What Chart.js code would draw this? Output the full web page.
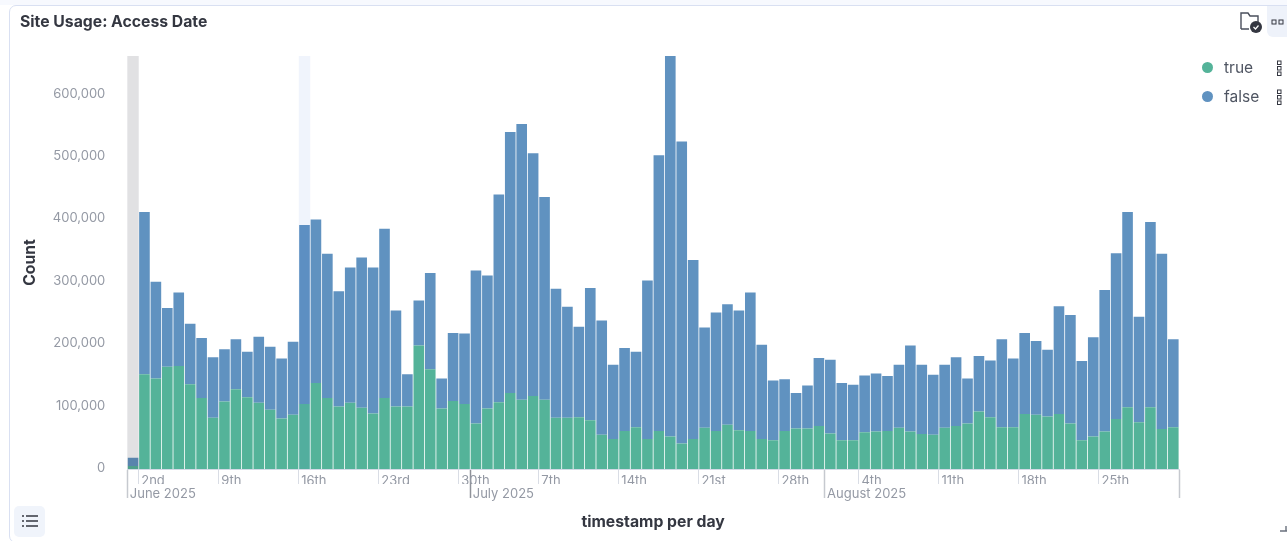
<!DOCTYPE html>
<html>
<head>
<meta charset="utf-8">
<script src="https://cdn.jsdelivr.net/npm/chart.js"></script>
<style>
  html, body { margin: 0; padding: 0; background: #fff; overflow: hidden; }
  body { width: 1287px; height: 541px; position: relative; font-family: Inter, sans-serif; }
  #topstrip { position: absolute; left: 0; top: 0; width: 1287px; height: 5px; background: #f7f9fe; }
  #card { position: absolute; left: 9px; top: 5px; width: 1290px; height: 538px; box-sizing: border-box;
          border: 1px solid #d9e0f2; border-radius: 7px; background: #fff; }
  #chart { position: absolute; left: 0; top: 0; }
  #title { position: absolute; left: 20px; top: 13px; font-size: 15.75px; line-height: 18px; font-weight: 700; color: #343741; }
  #options { position: absolute; left: 1267px; top: 6px; width: 20px; height: 31px; background: #eef2fa; border-bottom-left-radius: 6px; }
  #listbtn { position: absolute; left: 14px; top: 506px; width: 31px; height: 31px; background: #f0f4fb; border-radius: 5px; }
  .legend-row { position: absolute; left: 1202px; height: 20px; font-size: 15.5px; line-height: 20px; color: #4f5562; }
  .legend-row i { position: absolute; left: 0; top: 4px; width: 11px; height: 11px; border-radius: 50%; }
  .legend-row span { position: absolute; left: 22px; }
  svg { position: absolute; }
</style>
</head>
<body>
<div id="topstrip"></div>
<div id="card"></div>
<canvas id="chart" width="1287" height="541"></canvas>
<div id="title">Site Usage: Access Date</div>
<svg style="left:1240px;top:11px" width="24" height="23" viewBox="0 0 24 23">
  <path d="M1 18V2h7l2 3h8v7M1 18h8" fill="none" stroke="#4a4f5c" stroke-width="1.4"/>
  <circle cx="16" cy="16" r="6" fill="#343741"/>
  <path d="M13.5 16l2 2 3-3.5" fill="none" stroke="#fff" stroke-width="1.2"/>
</svg>
<div id="options"></div>
<svg style="left:1271px;top:19px" width="14" height="6" viewBox="0 0 14 6">
  <rect x="1" y="1" width="4" height="4" fill="none" stroke="#343741"/>
  <rect x="8" y="1" width="4" height="4" fill="none" stroke="#343741"/>
</svg>
<div id="listbtn"></div>
<svg style="left:22px;top:514px" width="17" height="15" viewBox="0 0 17 15">
  <path d="M0 2h2M4 2h12M0 7h2M4 7h12M0 12h2M4 12h12" stroke="#343741" stroke-width="1.5"/>
</svg>
<svg style="left:1280px;top:526px" width="7" height="6" viewBox="0 0 7 6">
  <path d="M0 5h7M6 5V0" stroke="#69707d" stroke-width="1.4" fill="none"/>
</svg>
<script>
const days = [
  "Jun 1","Jun 2","Jun 3","Jun 4","Jun 5","Jun 6","Jun 7","Jun 8","Jun 9","Jun 10",
  "Jun 11","Jun 12","Jun 13","Jun 14","Jun 15","Jun 16","Jun 17","Jun 18","Jun 19","Jun 20",
  "Jun 21","Jun 22","Jun 23","Jun 24","Jun 25","Jun 26","Jun 27","Jun 28","Jun 29","Jun 30",
  "Jul 1","Jul 2","Jul 3","Jul 4","Jul 5","Jul 6","Jul 7","Jul 8","Jul 9","Jul 10",
  "Jul 11","Jul 12","Jul 13","Jul 14","Jul 15","Jul 16","Jul 17","Jul 18","Jul 19","Jul 20",
  "Jul 21","Jul 22","Jul 23","Jul 24","Jul 25","Jul 26","Jul 27","Jul 28","Jul 29","Jul 30","Jul 31",
  "Aug 1","Aug 2","Aug 3","Aug 4","Aug 5","Aug 6","Aug 7","Aug 8","Aug 9","Aug 10",
  "Aug 11","Aug 12","Aug 13","Aug 14","Aug 15","Aug 16","Aug 17","Aug 18","Aug 19","Aug 20",
  "Aug 21","Aug 22","Aug 23","Aug 24","Aug 25","Aug 26","Aug 27","Aug 28","Aug 29","Aug 30","Aug 31"
];
const trueCounts = [
  5000,152000,145000,164000,165000,136000,114000,82000,108000,128000,
  115000,106000,95000,81000,87000,104000,138000,114000,100000,106000,
  98000,89000,114000,100000,100000,198000,160000,97000,109000,104000,
  73000,97000,107000,122000,111000,117000,111000,82000,82000,83000,
  78000,55000,48000,61000,67000,48000,61000,52000,41000,48000,
  66000,61000,71000,62000,61000,48000,46000,61000,65000,65000,69000,
  57000,46000,46000,59000,60000,61000,66000,60000,56000,55000,
  66000,69000,73000,92000,83000,67000,67000,88000,87000,84000,
  88000,73000,46000,52000,60000,80000,99000,75000,99000,64000,67000
];
const falseCounts = [
  13000,260000,155000,94000,118000,97000,96000,97000,84000,80000,
  73000,106000,101000,96000,117000,287000,262000,231000,185000,217000,
  241000,234000,271000,154000,52000,72000,154000,48000,109000,113000,
  245000,213000,333000,418000,442000,389000,325000,207000,178000,145000,
  212000,183000,119000,133000,121000,254000,442000,610000,484000,287000,
  161000,190000,193000,192000,222000,151000,96000,83000,57000,69000,109000,
  118000,92000,89000,91000,93000,88000,101000,138000,111000,96000,
  101000,110000,72000,89000,91000,141000,110000,130000,118000,107000,
  173000,174000,127000,159000,227000,266000,313000,169000,297000,281000,141000
];
const countTicks = [0,100000,200000,300000,400000,500000,600000];
const tickDays = ["Jun 2","Jun 9","Jun 16","Jun 23","Jun 30","Jul 7","Jul 14","Jul 21","Jul 28","Aug 4","Aug 11","Aug 18","Aug 25"];
const tickTexts = ["2nd","9th","16th","23rd","30th","7th","14th","21st","28th","4th","11th","18th","25th"];
const monthDays = ["Jun 1","Jul 1","Aug 1"];
const monthTexts = ["June 2025","July 2025","August 2025"];

const greenColor = "#54B399";
const blueColor = "#6092C0";
const lineColor = "#d3dae6";
const labelColor = "#9499A4";
const inkColor = "#343741";

// x is a plain number axis: bar i is centred on i, so a day's left edge sits on i - 0.5
const edgeOf = name => days.indexOf(name) - 0.5;
const endEdge = days.length - 0.5;
const isMonthEdge = v => v === endEdge || monthDays.some(d => edgeOf(d) === v);
const edgeColor = c => {
  if (!c.tick) return lineColor;
  if (c.tick.value === edgeOf("Jul 1")) return "#8f9299";
  return isMonthEdge(c.tick.value) ? "#c6c9cf" : "#d9dde5";
};
const edgeWidth = c => (c.tick && isMonthEdge(c.tick.value)) ? 1.5 : 1;

// the two hover bands, drawn over the bars like the kibana cursor
const bands = [
  { day: "Jun 1", fill: "rgba(52,55,65,0.15)" },
  { day: "Jun 16", fill: "rgba(60,110,220,0.08)" }
];
const bandPlugin = {
  id: "bands",
  afterDatasetsDraw(chart) {
    const { ctx, chartArea, scales } = chart;
    bands.forEach(b => {
      const left = scales.x.getPixelForValue(edgeOf(b.day));
      const right = scales.x.getPixelForValue(edgeOf(b.day) + 1);
      ctx.fillStyle = b.fill;
      ctx.fillRect(left, chartArea.top, right - left, chartArea.height);
    });
  }
};

new Chart(document.getElementById("chart"), {
  type: "bar",
  plugins: [bandPlugin],
  data: {
    labels: days.map((d, i) => i),
    datasets: [
      { label: "true", data: trueCounts, backgroundColor: greenColor, barPercentage: 0.93, categoryPercentage: 1 },
      { label: "false", data: falseCounts, backgroundColor: blueColor, barPercentage: 0.93, categoryPercentage: 1 }
    ]
  },
  options: {
    responsive: false,
    animation: false,
    devicePixelRatio: 1,
    layout: { padding: { left: 0, right: 108, top: 56, bottom: 9 } },
    plugins: { legend: { display: false }, tooltip: { enabled: false } },
    scales: {
      y: {
        stacked: true,
        min: 0,
        max: 662000,
        afterFit(s) { s.width = 127.3; },
        afterBuildTicks(s) { s.ticks = countTicks.map(value => ({ value })); },
        border: { display: false },
        grid: { display: false },
        title: { display: true, text: "Count", color: inkColor, font: { family: "Inter", size: 15.75, weight: "700" }, padding: { top: 21, bottom: 0 } },
        ticks: {
          padding: 14,
          labelOffset: -1,
          color: labelColor,
          font: { family: "Inter", size: 13 },
          callback: v => v.toLocaleString("en-US")
        }
      },
      x: {
        type: "linear",
        stacked: true,
        offset: false,
        min: -0.5,
        max: endEdge,
        weight: 0,
        afterFit(s) { s.height = 15; },
        afterBuildTicks(s) {
          s.ticks = tickDays.concat(monthDays).map(edgeOf).concat(endEdge).sort((a, b) => a - b).map(value => ({ value }));
        },
        border: { display: true, color: lineColor },
        grid: { offset: false, drawOnChartArea: false, tickLength: 15, tickColor: edgeColor, tickWidth: edgeWidth },
        ticks: {
          autoSkip: false, maxRotation: 0, minRotation: 0, align: "start", labelOffset: 2.5, padding: -11,
          color: labelColor,
          font: { family: "Inter", size: 13 },
          // empty string, not null: a null label also hides the tick mark
          callback(v) {
            const i = tickDays.findIndex(d => edgeOf(d) === v);
            return i < 0 ? "" : tickTexts[i];
          }
        }
      },
      x2: {
        axis: "x",
        type: "linear",
        position: "bottom",
        offset: false,
        min: -0.5,
        max: endEdge,
        weight: 1,
        afterFit(s) { s.height = 48; },
        afterBuildTicks(s) {
          s.ticks = monthDays.map(edgeOf).concat(endEdge).map(value => ({ value }));
        },
        border: { display: false },
        grid: { offset: false, drawOnChartArea: false, tickLength: 14, tickWidth: edgeWidth, tickColor: edgeColor },
        title: { display: true, text: "timestamp per day", color: inkColor, font: { family: "Inter", size: 15.75, weight: "700" }, padding: { top: 0, bottom: 0 } },
        ticks: {
          autoSkip: false, maxRotation: 0, minRotation: 0, align: "start", labelOffset: 2.5, padding: -12,
          color: labelColor,
          font: { family: "Inter", size: 13 },
          callback(v) {
            const i = monthDays.findIndex(d => edgeOf(d) === v);
            return i < 0 ? "" : monthTexts[i];
          }
        }
      }
    }
  }
});

// legend sits in its own column on the right
[["true", greenColor, 58], ["false", blueColor, 87]].forEach(([name, color, top]) => {
  const row = document.createElement("div");
  row.className = "legend-row";
  row.style.top = top + "px";
  row.innerHTML = '<i style="background:' + color + '"></i><span>' + name + "</span>";
  document.body.appendChild(row);
  const dots = document.createElementNS("http://www.w3.org/2000/svg", "svg");
  dots.setAttribute("width", "6");
  dots.setAttribute("height", "17");
  dots.style.left = "1277px";
  dots.style.top = (top + 2) + "px";
  dots.innerHTML = [1, 6.5, 12].map(y => '<rect x="0.5" y="' + y + '" width="3.5" height="3.5" fill="none" stroke="#343741"/>').join("");
  document.body.appendChild(dots);
});
</script>
</body>
</html>
